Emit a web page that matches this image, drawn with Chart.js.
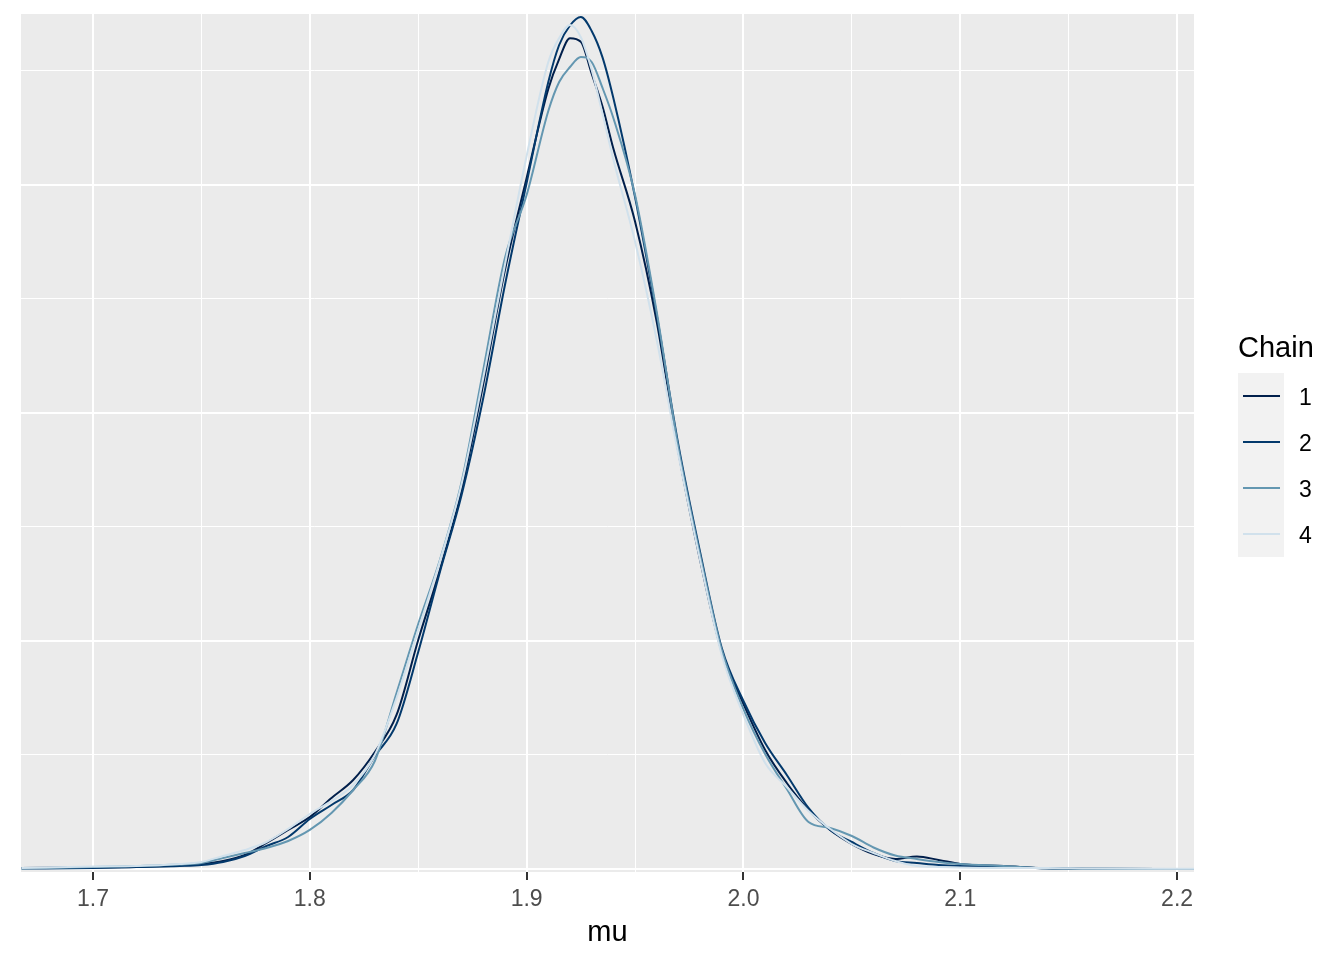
<!DOCTYPE html>
<html>
<head>
<meta charset="utf-8">
<title>mu - density by chain</title>
<script src="https://cdn.jsdelivr.net/npm/chart.js@4"></script>
<style>
  body { margin: 0; background: #fff; }
  canvas { display: block; }
</style>
</head>
<body>
<canvas id="dens-chart" width="1344" height="960"></canvas>
<script>
// values
const mu = [1.667, 1.70, 1.72, 1.74, 1.75, 1.76, 1.77, 1.78, 1.79, 1.80,
  1.81, 1.82, 1.83, 1.84, 1.85, 1.86, 1.87, 1.88, 1.89, 1.90,
  1.91, 1.915, 1.92, 1.925, 1.93, 1.935, 1.94,
  1.95, 1.96, 1.97, 1.98, 1.99, 2.00, 2.01, 2.02, 2.03, 2.04, 2.05, 2.06, 2.07, 2.08, 2.09, 2.10,
  2.12, 2.14, 2.16, 2.208]

const chain1 = [0.011, 0.016, 0.022, 0.038, 0.055, 0.088, 0.154, 0.285, 0.428, 0.570,
  0.779, 0.976, 1.283, 1.689, 2.511, 3.279, 4.156, 5.318, 6.568, 7.577,
  8.553, 8.880, 9.110, 9.070, 8.720, 8.360, 7.900,
  7.100, 6.000, 4.572, 3.388, 2.379, 1.809, 1.305, 0.943, 0.647, 0.428, 0.274, 0.164, 0.110, 0.137, 0.099, 0.055,
  0.033, 0.008, 0.003, 0.0]
const chain2 = [0.005, 0.011, 0.022, 0.033, 0.044, 0.077, 0.143, 0.252, 0.351, 0.548,
  0.702, 0.866, 1.239, 1.590, 2.379, 3.257, 4.101, 5.164, 6.404, 7.522,
  8.629, 9.035, 9.249, 9.342, 9.189, 8.900, 8.454,
  7.368, 6.075, 4.649, 3.476, 2.423, 1.842, 1.382, 1.031, 0.669, 0.428, 0.296, 0.175, 0.088, 0.066, 0.044, 0.033,
  0.022, 0.008, 0.003, 0.0]
const chain3 = [0.005, 0.022, 0.033, 0.049, 0.066, 0.121, 0.175, 0.230, 0.307, 0.428,
  0.614, 0.866, 1.184, 1.930, 2.686, 3.388, 4.243, 5.471, 6.700, 7.390,
  8.311, 8.629, 8.794, 8.904, 8.849, 8.564, 8.235,
  7.390, 6.107, 4.616, 3.443, 2.401, 1.754, 1.261, 0.877, 0.515, 0.450, 0.362, 0.236, 0.148, 0.110, 0.077, 0.055,
  0.033, 0.008, 0.003, 0.0]
const chain4 = [0.011, 0.027, 0.033, 0.055, 0.077, 0.143, 0.208, 0.296, 0.439, 0.603,
  0.746, 0.921, 1.250, 1.875, 2.621, 3.377, 4.221, 5.384, 6.623, 7.818,
  8.849, 9.112, 9.254, 9.120, 8.760, 8.280, 7.780,
  6.880, 5.800, 4.539, 3.388, 2.346, 1.689, 1.162, 0.899, 0.636, 0.439, 0.274, 0.175, 0.088, 0.033, 0.022, 0.016,
  0.011, 0.011, 0.005, 0.003]

const chainLabels = ['1', '2', '3', '4']
const chainColors = ['#011f4b', '#03396c', '#6497b1', '#d1e1ec']
const xTicks = [1.7, 1.75, 1.8, 1.85, 1.9, 1.95, 2.0, 2.05, 2.1, 2.15, 2.2]
const yTicks = [0, 1.25, 2.5, 3.75, 5, 6.25, 7.5, 8.75]

const isMajorX = v => Math.abs(v * 10 - Math.round(v * 10)) < 1e-6
const isMajorY = v => Math.abs(v / 2.5 - Math.round(v / 2.5)) < 1e-6

const ctx = document.getElementById('dens-chart').getContext('2d')

// grey panel behind the grid
const panelBg = {
  id: 'panelBg',
  beforeDraw(chart) {
    const a = chart.chartArea
    const c = chart.ctx
    c.save()
    c.fillStyle = '#ebebeb'
    c.fillRect(a.left, a.top, a.right - a.left, a.bottom - a.top)
    c.restore()
  }
}

// ggplot style legend on the right
const chainLegend = {
  id: 'chainLegend',
  afterDraw(chart) {
    const c = chart.ctx
    const left = 1238, top = 373, key = 46
    c.save()
    c.fillStyle = '#000'
    c.font = '29px "Liberation Sans", Arial, sans-serif'
    c.textBaseline = 'middle'
    c.textAlign = 'left'
    c.fillText('Chain', 1238, 349)

    c.fillStyle = '#f2f2f2'
    c.fillRect(left, top, key, key * chainLabels.length)

    c.font = '23px "Liberation Sans", Arial, sans-serif'
    chainLabels.forEach((lab, i) => {
      const cy = top + key * i + key / 2
      c.strokeStyle = chainColors[i]
      c.lineWidth = 2
      c.beginPath()
      c.moveTo(left + 5, cy)
      c.lineTo(left + key - 4, cy)
      c.stroke()
      c.fillStyle = '#000'
      c.fillText(lab, 1299, cy + 3)
    })
    c.restore()
  }
}

const chains = [chain1, chain2, chain3, chain4]

new Chart(ctx, {
  type: 'line',
  data: {
    datasets: chains.map((vals, i) => ({
      label: chainLabels[i],
      data: mu.map((m, j) => ({ x: m, y: vals[j] })),
      borderColor: chainColors[i],
      borderWidth: 2,
      pointRadius: 0,
      fill: false,
      cubicInterpolationMode: 'monotone',
      order: chains.length - i
    }))
  },
  options: {
    responsive: false,
    animation: false,
    devicePixelRatio: 1,
    layout: {
      padding: { left: 21, right: 150, top: 14, bottom: 0 }
    },
    plugins: {
      legend: { display: false },
      tooltip: { enabled: false }
    },
    scales: {
      x: {
        type: 'linear',
        min: 1.6668,
        max: 2.2078,
        afterBuildTicks: s => { s.ticks = xTicks.map(v => ({ value: v })) },
        afterFit: s => { s.height = 88 },
        border: { display: false },
        grid: {
          color: '#ffffff',
          lineWidth: c => isMajorX(c.tick.value) ? 2 : 1,
          drawTicks: true,
          tickLength: 8,
          tickWidth: 2,
          tickColor: c => isMajorX(c.tick.value) ? '#333333' : 'rgba(0,0,0,0)'
        },
        ticks: {
          autoSkip: false,
          maxRotation: 0,
          padding: 6,
          color: '#4d4d4d',
          font: { family: '"Liberation Sans", Arial, sans-serif', size: 23 },
          callback: value => isMajorX(value) ? value.toFixed(1) : ''
        },
        title: {
          display: true,
          text: 'mu',
          color: '#000',
          font: { family: '"Liberation Sans", Arial, sans-serif', size: 29 },
          padding: { top: 0, bottom: 10 }
        }
      },
      y: {
        type: 'linear',
        min: -0.033,
        max: 9.375,
        afterBuildTicks: s => { s.ticks = yTicks.map(v => ({ value: v })) },
        afterFit: s => { s.width = 0 },
        border: { display: false },
        grid: {
          color: '#ffffff',
          lineWidth: c => isMajorY(c.tick.value) ? 2 : 1,
          drawTicks: false
        },
        ticks: { display: false }
      }
    }
  },
  plugins: [panelBg, chainLegend]
})
</script>
</body>
</html>
